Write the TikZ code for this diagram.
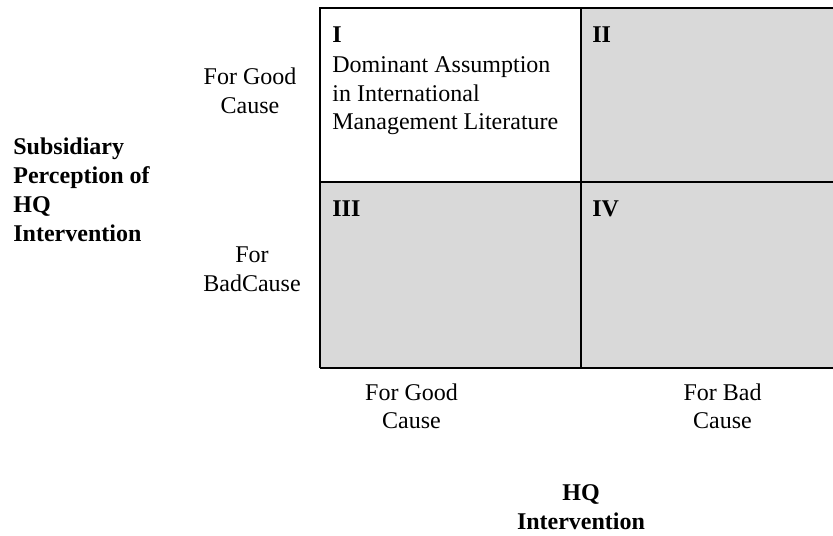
\documentclass[tikz,border=0pt]{standalone}
\usepackage{fontspec}
\setmainfont{Liberation Serif}
\begin{document}
\begin{tikzpicture}[x=0.5pt,y=-0.5pt,
  gridline/.style={line width=1pt,black},
  cellfill/.style={fill=gray!30},
  lbl/.style={inner sep=0pt,font=\fontsize{12}{14}\selectfont,align=center},
  lblb/.style={inner sep=0pt,font=\bfseries\fontsize{12}{14.5}\selectfont,align=left},
  cellnum/.style={inner sep=0pt,font=\bfseries\fontsize{12}{14}\selectfont,anchor=base west},
  celltext/.style={inner sep=0pt,font=\fontsize{12}{14.2}\selectfont,align=left,anchor=base west}]
\useasboundingbox (0,0) rectangle (833,535);
% cells
\fill[cellfill] (581,8) rectangle (840,182);
\fill[cellfill] (320,182) rectangle (840,368);
% grid lines
\coordinate (tl) at (320,8);
\coordinate (tr) at (840,8);
\coordinate (ml) at (320,182);
\coordinate (mr) at (840,182);
\coordinate (bl) at (320,368);
\coordinate (br) at (840,368);
\coordinate (tm) at (581,8);
\coordinate (bm) at (581,368);
\draw[gridline] (tr) -- (tl) -- (bl);
\draw[gridline] (ml) -- (mr);
\draw[gridline] (tm) -- (bm);
\draw[line width=1.3pt] (bl) -- (br);
% cell labels (base anchor = baseline of last line)
\node[cellnum] (n1) at (332,42.6) {I};
\node[celltext] (d1) at (332,129.6) {Dominant Assumption\\in International\\Management Literature};
\node[cellnum] (n2) at (592,42.6) {II};
\node[cellnum] (n3) at (332,216.6) {III};
\node[cellnum] (n4) at (592,216.6) {IV};
% row labels
\node[lbl,anchor=base,font=\fontsize{12}{14.5}\selectfont] (rg) at (250,113) {For Good\\Cause};
\node[lbl,anchor=base,font=\fontsize{12}{14.5}\selectfont] (rb) at (252,291.7) {For\\BadCause};
\node[lblb,anchor=base west] (ry) at (13,241) {Subsidiary\\Perception of\\HQ\\Intervention};
% column labels
\node[lbl,anchor=base] (cg) at (411.5,428) {For Good\\Cause};
\node[lbl,anchor=base] (cb) at (722.5,428) {For Bad\\Cause};
\node[lblb,align=center,anchor=base] (cx) at (581,529) {HQ\\Intervention};
\end{tikzpicture}
\end{document}
